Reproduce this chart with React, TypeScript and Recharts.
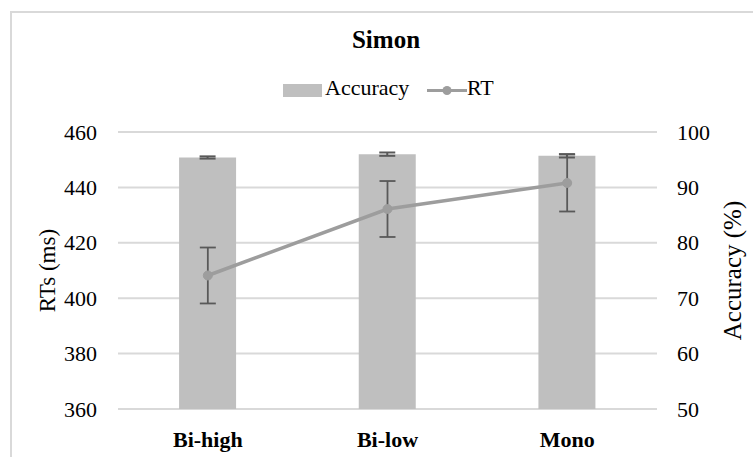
import {
  ComposedChart, Bar, Line, XAxis, YAxis, CartesianGrid, ErrorBar, Label,
} from "recharts";

// values
const conditions = ["Bi-high", "Bi-low", "Mono"];
const accuracy = [95.4, 96.0, 95.7];
const accuracyErr = [0.2, 0.3, 0.3];
const rt = [408.2, 432.2, 441.6];
const rtErr = [10.1, 10.1, 10.3];
const rtTicks = [360, 380, 400, 420, 440, 460];
const accTicks = [50, 60, 70, 80, 90, 100];

const data = conditions.map((c, i) => ({
  name: c,
  accuracy: accuracy[i],
  accErr: accuracyErr[i],
  rt: rt[i],
  rtErr: rtErr[i],
}));

const FONT = "'Liberation Serif', 'Times New Roman', serif";
const BAR = "#bfbfbf";
const LINE = "#9d9d9d";
const ERR = "#595959";
const svgText = { fontFamily: FONT, fontSize: 22, fill: "#000" };
const textBase = { position: "absolute" as const, fontFamily: FONT, fontSize: 22, lineHeight: "22px", whiteSpace: "nowrap" as const };

function XTick({ x, y, payload }: any) {
  return (
    <text x={x} y={y + 38} textAnchor="middle" fontWeight="bold" style={svgText}>
      {payload.value}
    </text>
  );
}

function LeftTick({ x, y, payload }: any) {
  return (
    <text x={x - 21} y={y + 7.5} textAnchor="end" style={svgText}>
      {payload.value}
    </text>
  );
}

function RightTick({ x, y, payload }: any) {
  return (
    <text x={x + 20} y={y + 7.5} textAnchor="start" style={svgText}>
      {payload.value}
    </text>
  );
}

export default function App() {
  return (
    <div style={{ position: "absolute", left: 0, top: 0, width: 753, height: 457, overflow: "hidden", background: "#fff", fontFamily: FONT }}>
      {/* chart frame, only its top and left edges show */}
      <div style={{ position: "absolute", left: 10, top: 11, width: 800, height: 500, border: "2px solid #d9d9d9" }} />

      <div style={{ ...textBase, left: 286, top: 27, width: 200, textAlign: "center", fontSize: 25, lineHeight: "25px", fontWeight: "bold" }}>
        Simon
      </div>

      {/* legend */}
      <span style={{ position: "absolute", left: 283, top: 84, width: 39, height: 13, background: BAR }} />
      <span style={{ ...textBase, left: 325, top: 77 }}>Accuracy</span>
      <svg width={40} height={13} style={{ position: "absolute", left: 427, top: 84 }}>
        <line x1={0} y1={6.5} x2={40} y2={6.5} stroke={LINE} strokeWidth={3} />
        <circle cx={20} cy={6.5} r={4.5} fill={LINE} />
      </svg>
      <span style={{ ...textBase, left: 467, top: 77 }}>RT</span>

      <div style={{ position: "absolute", left: 0, top: 0 }}>
        <ComposedChart
          width={753}
          height={457}
          data={data}
          margin={{ top: 132, right: 0, bottom: 0, left: 0 }}
          barCategoryGap="34%"
          style={{ fontFamily: FONT }}
        >
          <CartesianGrid vertical={false} stroke="#d9d9d9" strokeWidth={2} yAxisId="rt" />
          <XAxis
            dataKey="name"
            axisLine={false}
            tickLine={false}
            height={48}
            tickSize={0}
            tickMargin={0}
            tick={<XTick />}
          />
          <YAxis
            yAxisId="rt"
            domain={[360, 460]}
            ticks={rtTicks}
            width={118}
            axisLine={false}
            tickLine={false}
            tickSize={0}
            tickMargin={0}
            tick={<LeftTick />}
          >
            <Label value="RTs (ms)" angle={-90} position="insideLeft" offset={47} style={{ ...svgText, fontSize: 23, textAnchor: "middle" }} />
          </YAxis>
          <YAxis
            yAxisId="acc"
            orientation="right"
            domain={[50, 100]}
            ticks={accTicks}
            width={96}
            axisLine={false}
            tickLine={false}
            tickSize={0}
            tickMargin={0}
            tick={<RightTick />}
          >
            <Label value="Accuracy (%)" angle={-90} position="insideRight" offset={21} style={{ ...svgText, fontSize: 25, textAnchor: "middle" }} />
          </YAxis>
          <Bar yAxisId="acc" dataKey="accuracy" fill={BAR} isAnimationActive={false}>
            <ErrorBar dataKey="accErr" width={8} stroke={ERR} strokeWidth={2} direction="y" />
          </Bar>
          <Line
            yAxisId="rt"
            dataKey="rt"
            stroke={LINE}
            strokeWidth={3.5}
            dot={{ r: 4.5, fill: LINE, stroke: LINE, strokeWidth: 1 }}
            activeDot={false}
            isAnimationActive={false}
          >
            <ErrorBar dataKey="rtErr" width={8} stroke={ERR} strokeWidth={1.8} direction="y" />
          </Line>
        </ComposedChart>
      </div>
    </div>
  );
}
